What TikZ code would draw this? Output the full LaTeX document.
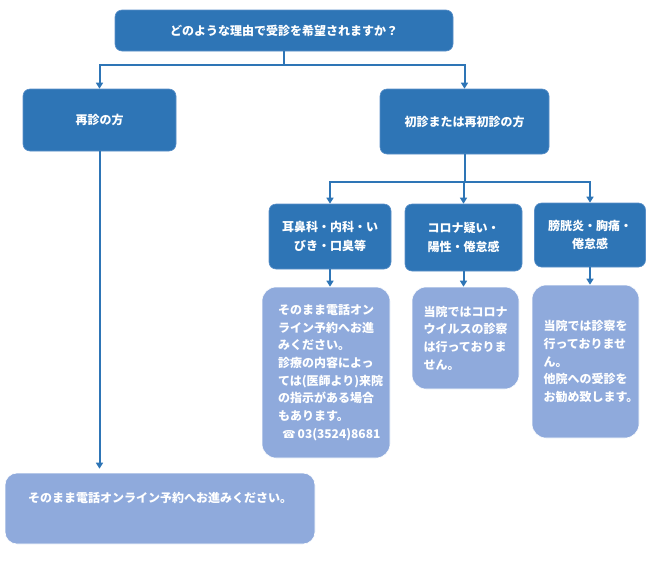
\documentclass[tikz,border=0pt]{standalone}
\usepackage{fontspec}
\setmainfont{Noto Sans CJK JP}
\newfontfamily\symfont{DejaVu Sans}
\usetikzlibrary{arrows.meta}
\definecolor{darkblue}{HTML}{2E75B6}
\definecolor{lightblue}{HTML}{8FAADC}
\definecolor{edgeblue}{HTML}{5A8FC8}
\tikzset{
  base/.style={text=white, font=\fontsize{12}{17.7}\selectfont\bfseries, inner sep=0pt},
  darkbox/.style={base, fill=darkblue, draw=edgeblue, line width=0.6pt, rounded corners=7pt, align=center},
  lightbox/.style={base, fill=lightblue, draw=white, line width=0.6pt, rounded corners=14pt, align=left},
  conn/.style={draw=darkblue, line width=2pt},
  arr/.style={conn, -{Triangle[width=7pt,length=6pt]}},
}
\begin{document}
\begin{tikzpicture}[x=1pt,y=-1pt]
\useasboundingbox (0,0) rectangle (650,560);
% top
\node[darkbox, minimum width=338pt, minimum height=41pt] (top) at (284,30.5) {どのような理由で受診を希望されますか？};
\node[darkbox, minimum width=153pt, minimum height=62pt] (re) at (99.5,120) {再診の方};
\node[darkbox, minimum width=169pt, minimum height=65pt] (first) at (464.5,121.5) {初診または再初診の方};
\node[lightbox, rounded corners=12pt, align=center, minimum width=310pt, minimum height=71pt] (bottom) at (160,508.5) {そのまま電話オンライン予約へお進みください。\\ \strut};
% second level
\node[darkbox, minimum width=122pt, minimum height=65pt, font=\fontsize{12}{19}\selectfont\bfseries] (A) at (330,236.5) {耳鼻科・内科・い\\びき・口臭等};
\node[darkbox, minimum width=117pt, minimum height=67pt, font=\fontsize{12}{19}\selectfont\bfseries] (B) at (463.5,237.5) {コロナ疑い・\\陽性・倦怠感};
\node[darkbox, minimum width=111pt, minimum height=64pt, font=\fontsize{12}{18.5}\selectfont\bfseries] (C) at (590,235) {膀胱炎・胸痛・\\倦怠感};
% light boxes
\node[lightbox, text width=96pt, minimum width=128pt, minimum height=171pt] (LA) at (326,372.5)
  {そのまま電話オン\\ライン予約へお進\\みください。\\診療の内容によっ\\ては(医師より)来院\\の指示がある場合\\もあります。\\\mbox{\ {\symfont\fontsize{11}{17.7}\selectfont ☎}\,03(3524)8681}};
\node[lightbox, text width=84pt, minimum width=107pt, minimum height=102pt] (LB) at (465.5,338)
  {当院ではコロナ\\ウイルスの診察\\は行っておりま\\せん。};
\node[lightbox, text width=84pt, minimum width=107pt, minimum height=153pt] (LC) at (585.5,361.5)
  {当院では診察を\\行っておりませ\\ん。\\他院への受診を\\お勧め致します。};
% connectors
\coordinate (j1) at (284,65);
\draw[conn] (top.south) -- (j1);
\draw[arr] (j1) -| (re.north);
\draw[arr] (j1) -| (first.north);
\draw[arr, shorten >=4pt] (re.south) -- (re.south |- bottom.north);
\coordinate (j2) at (464.5,182);
\draw[conn] (first.south) -- (j2);
\draw[arr] (j2) -| (A.north);
\draw[arr] (j2) -| (B.north);
\draw[arr] (j2) -| (C.north);
\draw[arr] (A.south) -- (A.south |- LA.north);
\draw[arr] (B.south) -- (B.south |- LB.north);
\draw[arr] (C.south) -- (C.south |- LC.north);
\end{tikzpicture}
\end{document}
